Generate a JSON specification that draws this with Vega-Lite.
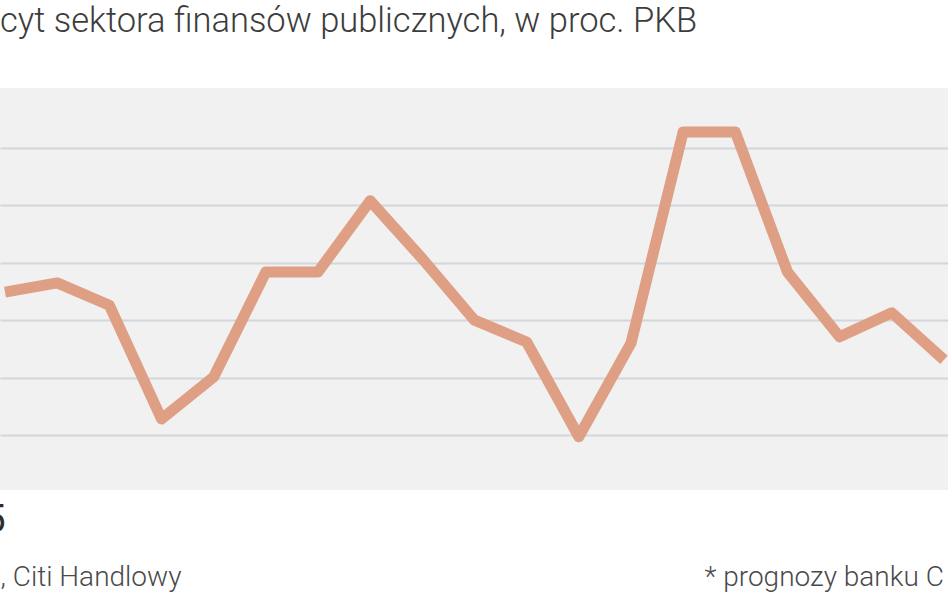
{
  "$schema": "https://vega.github.io/schema/vega-lite/v6.json",
  "autosize": {"type": "none"},
  "width": 948,
  "height": 402,
  "padding": {"left": 0, "top": 88, "right": 0, "bottom": 103},
  "background": "#ffffff",
  "title": {
    "text": "cyt sektora finansów publicznych, w proc. PKB",
    "anchor": "start",
    "frame": "group",
    "baseline": "alphabetic",
    "offset": 22,
    "font": "Roboto",
    "fontWeight": 300,
    "fontSize": 34.5,
    "color": "#3c3c3c"
  },
  "data": {
    "values": [
      {"rok": 1996, "deficyt": 4.49},
      {"rok": 1997, "deficyt": 4.65},
      {"rok": 1998, "deficyt": 4.26},
      {"rok": 1999, "deficyt": 2.28},
      {"rok": 2000, "deficyt": 3.01},
      {"rok": 2001, "deficyt": 4.84},
      {"rok": 2002, "deficyt": 4.84},
      {"rok": 2003, "deficyt": 6.08},
      {"rok": 2004, "deficyt": 5.07},
      {"rok": 2005, "deficyt": 4.0},
      {"rok": 2006, "deficyt": 3.62},
      {"rok": 2007, "deficyt": 1.97},
      {"rok": 2008, "deficyt": 3.6},
      {"rok": 2009, "deficyt": 7.28},
      {"rok": 2010, "deficyt": 7.28},
      {"rok": 2011, "deficyt": 4.84},
      {"rok": 2012, "deficyt": 3.71},
      {"rok": 2013, "deficyt": 4.13},
      {"rok": 2014, "deficyt": 3.31}
    ]
  },
  "mark": {"type": "line", "color": "#df9f84", "strokeWidth": 11, "strokeJoin": "round"},
  "encoding": {
    "x": {
      "field": "rok",
      "type": "quantitative",
      "scale": {"domain": [1995.904, 2014.077], "nice": false, "zero": false},
      "axis": {
        "values": [1996],
        "labelExpr": "'5'",
        "labelAlign": "right",
        "labelDx": 8,
        "labelBaseline": "alphabetic",
        "labelPadding": 41,
        "labelFont": "Roboto",
        "labelFontWeight": 400,
        "labelFontSize": 38,
        "labelColor": "#2e2e2e",
        "ticks": false,
        "domain": false,
        "grid": false,
        "title": ", Citi Handlowy",
        "titleX": 0,
        "titleY": 95,
        "titleAlign": "left",
        "titleBaseline": "alphabetic",
        "titleFont": "Roboto",
        "titleFontWeight": 300,
        "titleFontSize": 28,
        "titleColor": "#4a4a4a"
      }
    },
    "y": {
      "field": "deficyt",
      "type": "quantitative",
      "scale": {"domain": [1.042, 8.045], "nice": false, "zero": false},
      "axis": {
        "values": [2, 3, 4, 5, 6, 7],
        "grid": true,
        "gridColor": "#d3d6da",
        "gridWidth": 2,
        "labels": false,
        "ticks": false,
        "domain": false,
        "title": "* prognozy banku C",
        "titleAngle": 0,
        "titleX": 704,
        "titleY": 497,
        "titleAlign": "left",
        "titleBaseline": "alphabetic",
        "titleFont": "Roboto",
        "titleFontWeight": 300,
        "titleFontSize": 28,
        "titleColor": "#4a4a4a"
      }
    }
  },
  "config": {
    "view": {"fill": "#f1f1f1", "stroke": null}
  }
}
